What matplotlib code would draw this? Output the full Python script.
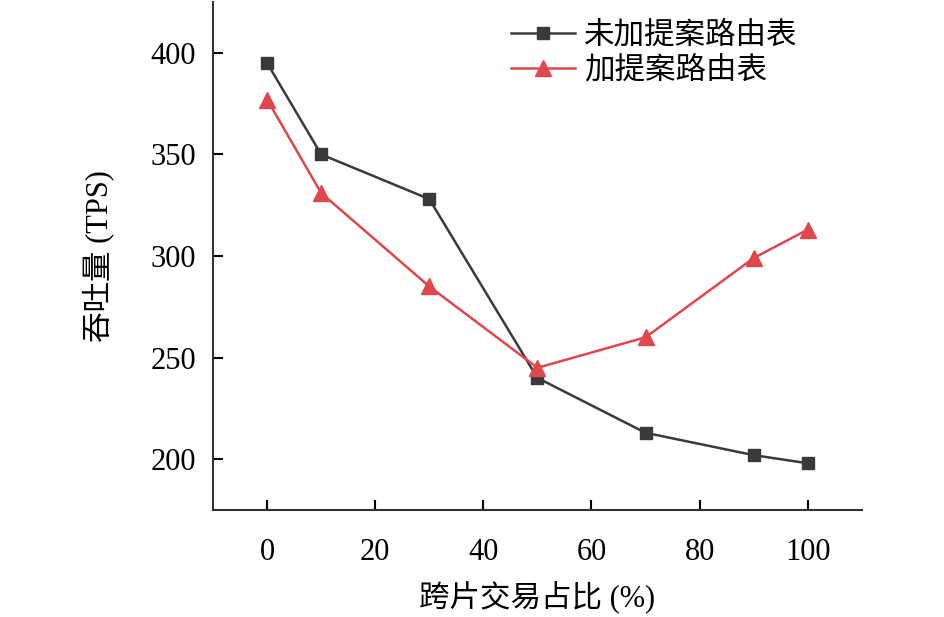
import matplotlib.pyplot as plt
import numpy as np

plt.rcParams['font.family'] = ['Liberation Serif', 'Noto Sans CJK SC']

x = [0, 10, 30, 50, 70, 90, 100]
y_no = [395, 350, 328, 240, 213, 202, 198]
y_yes = [377, 331, 285, 245, 260, 299, 313]
xt = [0, 20, 40, 60, 80, 100]
yt = [200, 250, 300, 350, 400]

fig = plt.figure(figsize=(9.45, 6.17), dpi=100)
ax = fig.add_axes([0.2254, 0.1734, 0.6866, 0.8234])

ax.plot(x, y_no, "s-", color="#3a3a3a", lw=1.8, ms=8, label="未加提案路由表")
ax.plot(x, y_yes, "^-", color="#e0474c", lw=1.8, ms=11, label="加提案路由表")

ax.set_xlim(-10, 110)
ax.set_ylim(175, 425)
ax.set_xticks(xt)
ax.set_yticks(yt)
ax.tick_params(direction="in", length=7, width=1.5, labelsize=22)
ax.tick_params(axis="x", pad=20)
ax.tick_params(axis="y", pad=12)
for s in ["top", "right"]:
    ax.spines[s].set_visible(False)
for s in ["left", "bottom"]:
    ax.spines[s].set_linewidth(1.5)
    ax.spines[s].set_color("#333333")

ax.set_xlabel("跨片交易占比 (%)", fontsize=22, labelpad=10)
ax.set_ylabel("吞吐量 (TPS)", fontsize=22, labelpad=26)
ax.legend(loc="upper right", bbox_to_anchor=(0.943, 1.015), frameon=False, fontsize=22,
          handlelength=2.1, handletextpad=0.3, labelspacing=0.2)

fig.savefig("out.png", dpi=100)
